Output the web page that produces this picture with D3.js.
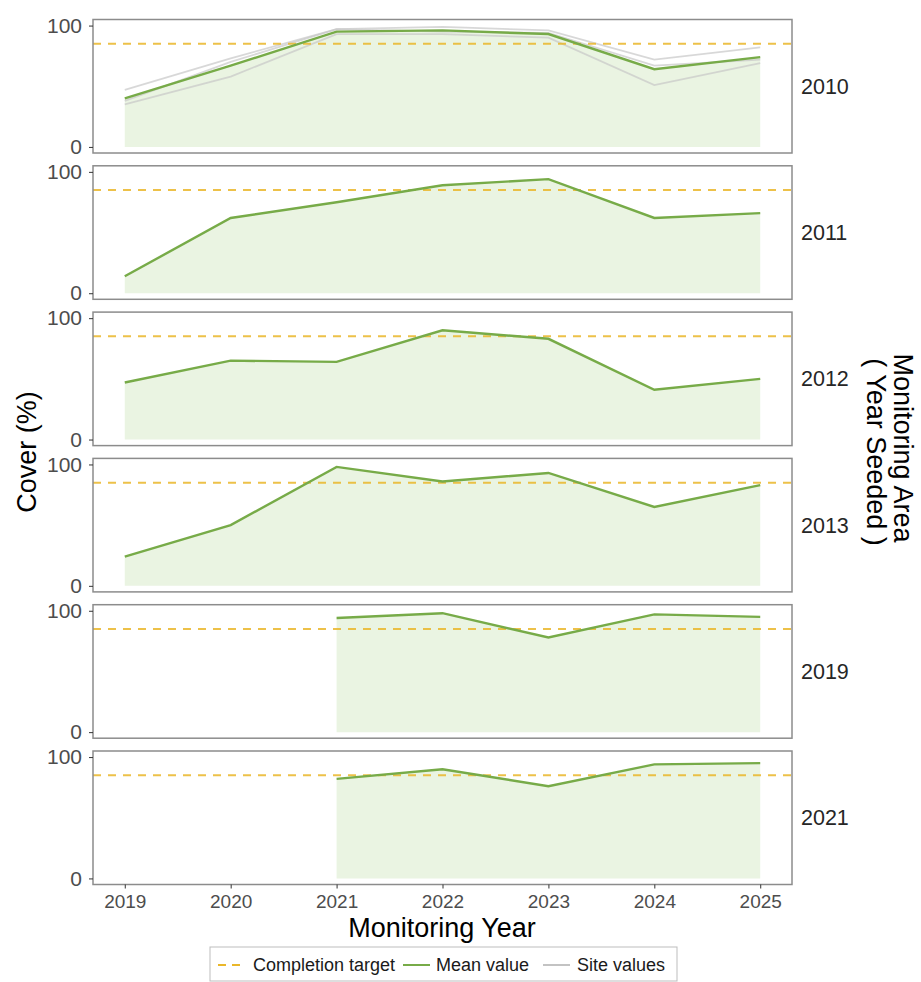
<!DOCTYPE html>
<html>
<head>
<meta charset="utf-8">
<script src="https://cdn.jsdelivr.net/npm/d3@7"></script>
<style>
  body { margin: 0; background: #fff; }
  svg { font-family: "Liberation Sans", Arial, sans-serif; }
</style>
</head>
<body>
<div id="chart"></div>
<script>
// Dados
const years = [2019, 2020, 2021, 2022, 2023, 2024, 2025];
const areas = ['2010', '2011', '2012', '2013', '2019', '2021'];
const target = 85;

// média por área (null = sem monitoramento)
const mean2010 = [40, 67, 95, 96, 93, 64, 74];
const mean2011 = [14, 62, 75, 89, 94, 62, 66];
const mean2012 = [47, 65, 64, 90, 83, 41, 50];
const mean2013 = [24, 50, 98, 86, 93, 65, 83];
const mean2019 = [null, null, 94, 98, 78, 97, 95];
const mean2021 = [null, null, 82, 90, 76, 94, 95];

// valores por sítio (só a área 2010 tem vários)
const site2010a = [47, 73, 97, 99, 96, 72, 82];
const site2010b = [35, 58, 93, 93, 90, 51, 69];
const site2010c = [38, 70, 97, 95, 94, 67, 72];

const means = [mean2010, mean2011, mean2012, mean2013, mean2019, mean2021];
const sites = [[site2010a, site2010b, site2010c], [], [], [], [], []];

const yTicks = [0, 100];
const legendItems = ['Completion target', 'Mean value', 'Site values'];

const W = 921, H = 982;
const left = 93, right = 792;
const panelTop = 19.5, panelH = 133.5, pitch = 146.3;
const FONT = '"Liberation Sans", Arial, sans-serif';

const svg = d3.select('#chart').append('svg')
    .attr('width', W).attr('height', H);

const x = d3.scaleLinear().domain([2018.7, 2025.3]).range([left, right]);

const green = '#77ab48', fillGreen = '#eaf4e2', gold = '#eab72a', grey = '#c8c8c8';

areas.forEach((area, i) => {
    const top = panelTop + i * pitch;
    const y = d3.scaleLinear().domain([-5, 105]).range([top + panelH, top]);
    const g = svg.append('g');

    const pts = years.map((yr, k) => ({ yr, v: means[i][k] })).filter(d => d.v !== null);

    // área sob a média
    g.append('path')
        .datum(pts)
        .attr('d', d3.area().x(d => x(d.yr)).y0(y(0)).y1(d => y(d.v)))
        .attr('fill', fillGreen);

    // linhas dos sítios
    sites[i].forEach(s => {
        g.append('path')
            .datum(years.map((yr, k) => ({ yr, v: s[k] })))
            .attr('d', d3.line().x(d => x(d.yr)).y(d => y(d.v)))
            .attr('fill', 'none')
            .attr('stroke', grey)
            .attr('stroke-width', 1.8)
            .attr('opacity', 0.7);
    });

    // meta
    g.append('line')
        .attr('x1', left).attr('x2', right)
        .attr('y1', y(target)).attr('y2', y(target))
        .attr('stroke', gold).attr('stroke-width', 2)
        .attr('stroke-dasharray', '8,7')
        .attr('opacity', 0.85);

    // média
    g.append('path')
        .datum(pts)
        .attr('d', d3.line().x(d => x(d.yr)).y(d => y(d.v)))
        .attr('fill', 'none')
        .attr('stroke', green)
        .attr('stroke-width', 2.4);

    // moldura
    g.append('rect')
        .attr('x', left).attr('y', top)
        .attr('width', right - left).attr('height', panelH)
        .attr('fill', 'none').attr('stroke', '#8c8c8c').attr('stroke-width', 1.5);

    // eixo y
    const ay = g.append('g')
        .attr('transform', `translate(${left},0)`)
        .call(d3.axisLeft(y).tickValues(yTicks).tickSize(4).tickPadding(7));
    ay.select('.domain').remove();
    ay.selectAll('line').attr('stroke', '#333');
    ay.selectAll('text').attr('font-size', 21).attr('fill', '#4d4d4d')
        .attr('font-family', FONT);

    // rótulo do painel
    g.append('text')
        .attr('x', 801).attr('y', top + panelH / 2)
        .attr('dy', '0.35em')
        .attr('font-size', 21.5).attr('fill', '#262626')
        .text(area);

    // eixo x só no último
    if (i === areas.length - 1) {
        const ax = g.append('g')
            .attr('transform', `translate(0,${top + panelH})`)
            .call(d3.axisBottom(x).tickValues(years).tickFormat(d3.format('d')).tickSize(4).tickPadding(6));
        ax.select('.domain').remove();
        ax.selectAll('line').attr('stroke', '#333');
        ax.selectAll('text').attr('font-size', 19).attr('fill', '#4d4d4d')
            .attr('font-family', FONT);
    }
});

// títulos
svg.append('text')
    .attr('x', 442).attr('y', 937)
    .attr('text-anchor', 'middle').attr('font-size', 27).attr('fill', '#000')
    .text('Monitoring Year');

svg.append('text')
    .attr('transform', `translate(36,452) rotate(-90)`)
    .attr('text-anchor', 'middle').attr('font-size', 27).attr('fill', '#000')
    .text('Cover (%)');

svg.append('text')
    .attr('transform', `translate(894,448) rotate(90)`)
    .attr('text-anchor', 'middle').attr('font-size', 27).attr('fill', '#000')
    .text('Monitoring Area');
svg.append('text')
    .attr('transform', `translate(867,452) rotate(90)`)
    .attr('text-anchor', 'middle').attr('font-size', 27).attr('fill', '#000')
    .text('( Year Seeded )');

// legenda
const lg = svg.append('g');
lg.append('rect')
    .attr('x', 210).attr('y', 947).attr('width', 467).attr('height', 34)
    .attr('fill', '#fff').attr('stroke', '#bdbdbd').attr('stroke-width', 1);

const keyX = [218, 403, 543];
const textX = [253, 436, 577];
const keyStyle = [
    { stroke: gold, dash: '8,6' },
    { stroke: green, dash: null },
    { stroke: '#aaaaaa', dash: null }
];
legendItems.forEach((t, k) => {
    lg.append('line')
        .attr('x1', keyX[k]).attr('x2', keyX[k] + 27)
        .attr('y1', 965).attr('y2', 965)
        .attr('stroke', keyStyle[k].stroke)
        .attr('stroke-width', k === 2 ? 1.4 : 2)
        .attr('stroke-dasharray', keyStyle[k].dash);
    lg.append('text')
        .attr('x', textX[k]).attr('y', 965).attr('dy', '0.35em')
        .attr('font-size', 18).attr('fill', '#1a1a1a')
        .attr('font-family', FONT)
        .text(t);
});
</script>
</body>
</html>
